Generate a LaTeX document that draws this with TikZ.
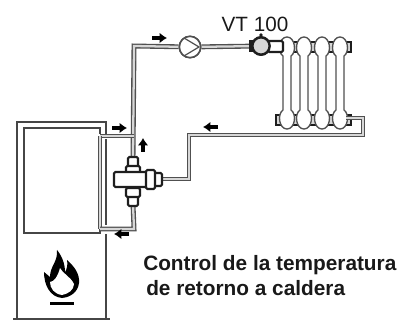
\documentclass[tikz,border=0pt]{standalone}
\usepackage{fontspec}
\setmainfont{Liberation Sans}
\usepackage{tikz}
\usetikzlibrary{
  arrows.meta,
  positioning,
  calc
}
\definecolor{pipecolor}{RGB}{80, 80, 80}
\definecolor{pipecore}{RGB}{215, 215, 215}
\definecolor{wallcolor}{RGB}{70, 70, 70}
\definecolor{labelcolor}{RGB}{25, 25, 25}
\definecolor{valvecolor}{RGB}{30, 30, 30}
\tikzset{
pipe/.style={
  draw=pipecolor,
  line width=1pt,
  double=pipecore,
  double distance=1.7pt
},
wall/.style={
  draw=wallcolor,
  line width=1.5pt
},
flowarrow/.style={
  -{Latex[length=5.5pt,width=8pt]},
  line width=2.6pt,
  draw=black
},
pumpblock/.style={
  draw=pipecolor,
  circle,
  line width=1.2pt,
  fill=white,
  minimum size=16pt,
  inner sep=0pt
},
valvehead/.style={
  draw=valvecolor,
  circle,
  line width=1.8pt,
  fill=pipecore,
  minimum size=13pt,
  inner sep=0pt
},
valvepart/.style={
  draw=valvecolor,
  line width=1.6pt,
  fill=white,
  rounded corners=1pt
},
radline/.style={
  draw=pipecolor,
  line width=1pt,
  fill=white
},
radhub/.style={
  draw=valvecolor,
  line width=1pt,
  fill=pipecore
},
titlelabel/.style={
  font=\bfseries\fontsize{15.6}{18}\selectfont,
  text=labelcolor,
  anchor=base west,
  inner sep=0pt
},
typelabel/.style={
  font=\fontsize{15.5}{18}\selectfont,
  text=labelcolor,
  inner sep=0pt
}
}
\begin{document}
\begin{tikzpicture}[x=0.75pt,y=-0.75pt]
  \useasboundingbox (0,0) rectangle (403,320);
  % boiler
  \draw[wall] (17,320) -- (17,122) -- (106,122) -- (106,134);
  \draw[wall] (106,139) -- (106,225);
  \draw[wall] (106,234) -- (106,320);
  \draw[wall] (13,319) -- (110,319);
  \draw[wall] (100,134) -- (100,128) -- (24,128) -- (24,233) -- (100,233) -- (100,228);

  % radiator
  \draw[radhub] (272,42) rectangle (351,52);
  \draw[radhub] (276,115) rectangle (351,125);
  \foreach \x/\i in {287/1,304/2,322/3,340/4}{
    \draw[radline] (\x-4,56) -- (\x-4,110)
      .. controls (\x-10,114) and (\x-8,129) .. (\x,129)
      .. controls (\x+8,129) and (\x+10,114) .. (\x+4,110)
      -- (\x+4,56)
      .. controls (\x+10,52) and (\x+8,37) .. (\x,37)
      .. controls (\x-8,37) and (\x-10,52) .. (\x-4,56) -- cycle;
  }

  % named points of the pipes
  \coordinate (suppliedtop) at (134,46);
  \coordinate (boilerout) at (100,136);
  \coordinate (teeout) at (134,136);
  \coordinate (boilerin) at (100,229);
  \coordinate (teein) at (134,229);
  \coordinate (radout) at (346,118);
  \coordinate (radturn) at (363,118);
  \coordinate (retturn) at (363,135);
  \coordinate (retdrop) at (189,135);
  \coordinate (retvalve) at (189,179);

  \node[pumpblock] (pump) at (190,47) {};
  \node[valvehead] (radvalve) at (261,46) {};
  \node (mixer) at (133,181) [inner sep=0pt, minimum size=1pt] {};
  \node (mixertop) at (133,158) [inner sep=0pt, minimum size=1pt] {};
  \node (mixerbot) at (133,204) [inner sep=0pt, minimum size=1pt] {};
  \node (mixerright) at (160,179) [inner sep=0pt, minimum size=1pt] {};

  \draw[pipe] (mixertop) -- (suppliedtop) -- (pump);
  \draw[pipe] (pump) -- (radvalve);
  \draw[pipe] (boilerout) -- (teeout);
  \draw[pipe] (boilerout) -- (boilerin);
  \draw[pipe] (boilerin) -- (teein) -- (mixerbot);
  \draw[pipe] (radout) -- (radturn) -- (retturn) -- (retdrop) -- (retvalve) -- (mixerright);

  \node[pumpblock] at (pump) {};
  \draw[pipecolor, line width=0.9pt] (184,38) -- (199,47) -- (184,56);
  \draw[valvepart] (268,41) rectangle (283,52);
  \node[valvehead] at (radvalve) {};
  \fill[valvecolor] (261,35) circle (1.8);
  \draw[valvecolor, line width=2.4pt] (251,40) -- (251,52);

  % mixing valve
  \draw[valvepart] (128,157) rectangle (138,167);
  \draw[valvepart] (128,196) rectangle (138,206);
  \draw[valvepart] (126,166) rectangle (140,174);
  \draw[valvepart] (126,188) rectangle (140,197);
  \draw[valvepart] (152,173) rectangle (162,186);
  \draw[valvepart] (114,172) rectangle (148,187);
  \draw[valvepart] (146,170) rectangle (155,189);

  % flow direction
  \coordinate (flowa) at (152,38);
  \coordinate (flowb) at (112,128);
  \coordinate (flowc) at (143,152);
  \coordinate (flowd) at (129,234);
  \coordinate (flowe) at (218,127);
  \draw[flowarrow] (flowa) -- ++(15,0);
  \draw[flowarrow] (flowb) -- ++(15,0);
  \draw[flowarrow] (flowc) -- ++(0,-14);
  \draw[flowarrow] (flowd) -- ++(-15,0);
  \draw[flowarrow] (flowe) -- ++(-15,0);

  % flame
  \fill[black] (62,298) .. controls (50,297) and (44,285) .. (44,272)
    .. controls (46,274) and (48,275) .. (50,277)
    .. controls (50,266) and (58,262) .. (57,250)
    .. controls (62,256) and (65,264) .. (65,272)
    .. controls (67,269) and (68,264) .. (67,260)
    .. controls (74,266) and (80,274) .. (79,283)
    .. controls (78,291) and (72,297) .. (62,298) -- cycle;
  \fill[white] (62,295) .. controls (54,294) and (50,288) .. (50,282)
    .. controls (54,282) and (58,276) .. (60,268)
    .. controls (63,274) and (70,276) .. (74,284)
    .. controls (74,290) and (68,294) .. (62,295) -- cycle;
  \fill[black] (50,302) rectangle (74,304.5);

  \node[typelabel] (vtlabel) at (255,24) {VT 100};
  \node[titlelabel] (ctrllabel) at (143,271) {Control de la temperatura};
  \node[titlelabel] (retlabel) at (146,295) {de retorno a caldera};
\end{tikzpicture}
\end{document}
